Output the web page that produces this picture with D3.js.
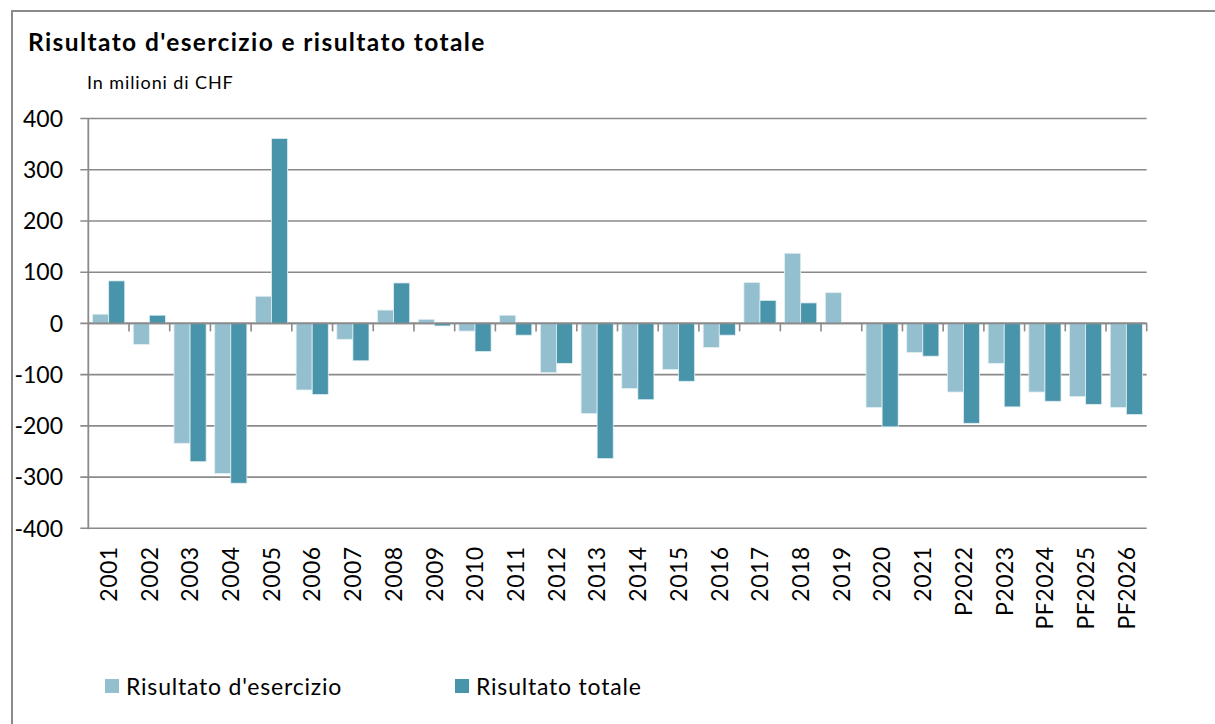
<!DOCTYPE html>
<html>
<head>
<meta charset="utf-8">
<script src="https://cdn.jsdelivr.net/npm/d3@7"></script>
<style>
  html, body { margin: 0; padding: 0; background: #fff; }
  svg { display: block; font-family: Lato, "Open Sans", sans-serif; }
</style>
</head>
<body>
<svg id="chart" width="1215" height="724"></svg>
<script>
// --- Data ---
const categories = ['2001', '2002', '2003', '2004', '2005', '2006', '2007', '2008', '2009', '2010',
    '2011', '2012', '2013', '2014', '2015', '2016', '2017', '2018', '2019', '2020',
    '2021', 'P2022', 'P2023', 'PF2024', 'PF2025', 'PF2026'];
const risultatoEsercizio = [18, -41, -234, -293, 53, -130, -31, 26, 8, -15,
    16, -96, -176, -127, -90, -47, 80, 137, 60, -164,
    -57, -134, -78, -134, -143, -164];
const risultatoTotale = [83, 16, -270, -312, 361, -139, -73, 79, -5, -55,
    -23, -78, -264, -149, -113, -23, 45, 40, 0, -202,
    -64, -195, -163, -152, -158, -178];
const seriesNames = ["Risultato d'esercizio", 'Risultato totale'];
const seriesColors = ['#93bfcf', '#4894aa'];
const yTicks = [400, 300, 200, 100, 0, -100, -200, -300, -400];

const svg = d3.select('#chart');
const GRID = '#8a8a8a';

// outer frame (only left and top edges visible)
svg.append('path')
    .attr('d', 'M12,730 L12,11 L1220,11')
    .attr('fill', 'none')
    .attr('stroke', GRID)
    .attr('stroke-width', 2);

// title & unit
svg.append('text')
    .attr('x', 28).attr('y', 51)
    .attr('font-size', 24.5).attr('font-weight', 'bold')
    .attr('letter-spacing', 1.4)
    .attr('fill', '#000')
    .text("Risultato d'esercizio e risultato totale");
svg.append('text')
    .attr('x', 87).attr('y', 89)
    .attr('font-size', 18)
    .attr('letter-spacing', 0.9)
    .attr('fill', '#000')
    .text('In milioni di CHF');

// scales
const plot = { left: 88.3, right: 1146.7, top: 118.5, bottom: 528.3 };
const y = d3.scaleLinear().domain([-400, 400]).range([plot.bottom, plot.top]);
const x0 = d3.scaleBand().domain(categories)
    .range([plot.left, plot.right])
    .paddingInner(0.21).paddingOuter(0.105);
const x1 = d3.scaleBand().domain(seriesNames).range([0, x0.bandwidth()]);

// gridlines + y labels
const yAxis = svg.append('g');
yAxis.selectAll('line.grid')
    .data(yTicks)
    .enter().append('line')
    .attr('class', 'grid')
    .attr('x1', plot.left - 8).attr('x2', plot.right)
    .attr('y1', d => y(d)).attr('y2', d => y(d))
    .attr('stroke', GRID).attr('stroke-width', 1.6);
yAxis.selectAll('text')
    .data(yTicks)
    .enter().append('text')
    .attr('x', 63).attr('y', d => y(d))
    .attr('dy', '0.36em')
    .attr('text-anchor', 'end')
    .attr('font-size', 23)
    .attr('fill', '#000')
    .text(d => d);

// bars
const rows = categories.map((c, i) => ({ cat: c, values: [risultatoEsercizio[i], risultatoTotale[i]] }));
const groups = svg.append('g').selectAll('g')
    .data(rows)
    .enter().append('g')
    .attr('transform', d => `translate(${x0(d.cat)},0)`);
groups.selectAll('rect')
    .data(d => d.values.map((v, k) => ({ name: seriesNames[k], value: v, k })))
    .enter().append('rect')
    .filter(d => d.value !== 0)
    .attr('x', d => x1(d.name))
    .attr('width', x1.bandwidth())
    .attr('y', d => y(Math.max(0, d.value)))
    .attr('height', d => Math.abs(y(d.value) - y(0)))
    .attr('fill', d => seriesColors[d.k])
    .attr('stroke', '#e3eff3')
    .attr('stroke-width', 0.8);

// left axis line
svg.append('line')
    .attr('x1', plot.left).attr('x2', plot.left)
    .attr('y1', plot.top).attr('y2', plot.bottom + 1)
    .attr('stroke', GRID).attr('stroke-width', 1.8);

// zero line with category tick marks
const y0 = y(0);
svg.append('line')
    .attr('x1', plot.left).attr('x2', plot.right)
    .attr('y1', y0).attr('y2', y0)
    .attr('stroke', GRID).attr('stroke-width', 1.8);
const boundaries = categories.map((c, i) => x0(c) - x0.step() * x0.paddingOuter() + x0.step());
svg.append('g').selectAll('line')
    .data(boundaries)
    .enter().append('line')
    .attr('x1', d => d).attr('x2', d => d)
    .attr('y1', y0).attr('y2', y0 + 8)
    .attr('stroke', GRID).attr('stroke-width', 1.6);

// x labels (rotated)
svg.append('g').selectAll('text')
    .data(categories)
    .enter().append('text')
    .attr('transform', d => `translate(${x0(d) + x0.bandwidth() / 2},${plot.bottom + 18}) rotate(-90)`)
    .attr('dy', '0.36em')
    .attr('text-anchor', 'end')
    .attr('font-size', 23)
    .attr('letter-spacing', 0.5)
    .attr('fill', '#000')
    .text(d => d);

// legend
const legendX = [105, 455];
const legend = svg.append('g').selectAll('g')
    .data(seriesNames)
    .enter().append('g')
    .attr('transform', (d, i) => `translate(${legendX[i]},679)`);
legend.append('rect')
    .attr('width', 14).attr('height', 14)
    .attr('fill', (d, i) => seriesColors[i]);
legend.append('text')
    .attr('x', 21).attr('y', 16)
    .attr('font-size', 23)
    .attr('letter-spacing', 0.8)
    .attr('fill', '#000')
    .text(d => d);
</script>
</body>
</html>
